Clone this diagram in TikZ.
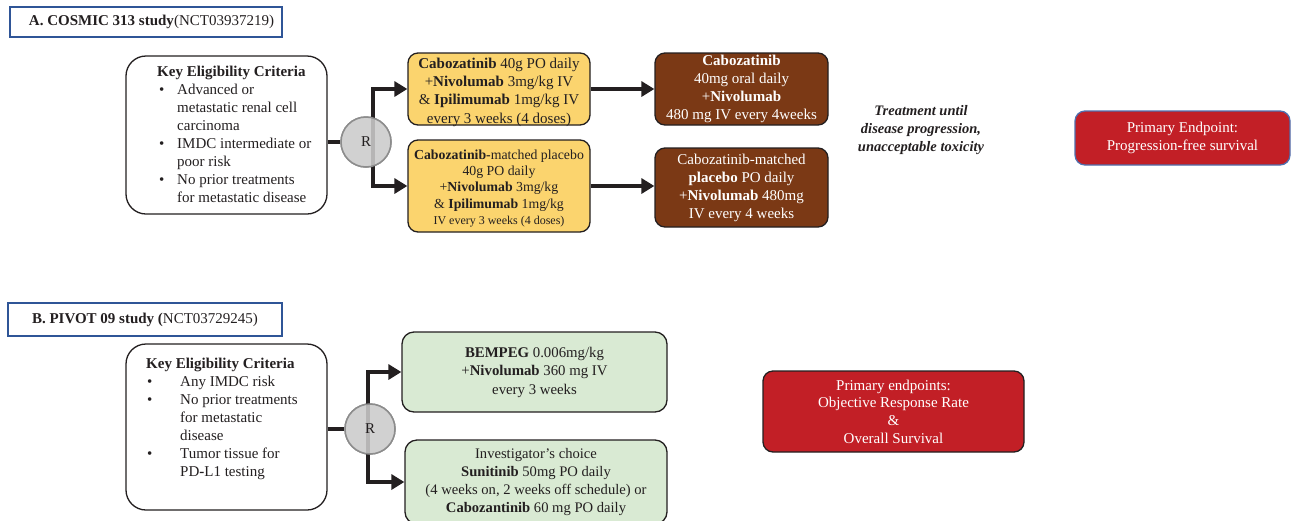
\documentclass[tikz,border=0pt]{standalone}
\usepackage{fontspec}
\setmainfont{Liberation Serif}
\usetikzlibrary{arrows.meta}
\definecolor{txt}{HTML}{231F20}
\definecolor{titleblue}{HTML}{2F5597}
\definecolor{yel}{HTML}{FBD46E}
\definecolor{brn}{HTML}{7B3915}
\definecolor{redbox}{HTML}{C21F26}
\definecolor{grn}{HTML}{D9EAD3}
\definecolor{rgray}{HTML}{D0D0D0}
\definecolor{rborder}{HTML}{8C8C8C}
\definecolor{bluebd}{HTML}{4F6FAE}
\newcommand{\fsz}{\fontsize{15}{18}\selectfont}
\tikzset{
  box/.style={draw=txt, line width=1.3pt, rounded corners=10pt, align=center, text=txt, inner sep=2pt, font=\fsz},
  yelbox/.style={box, fill=yel, minimum width=182pt},
  brnbox/.style={box, fill=brn, text=white, minimum width=173pt},
  grnbox/.style={box, fill=grn, rounded corners=12pt},
  redb/.style={box, fill=redbox, text=white},
  eligbox/.style={draw=txt, line width=1.3pt, rounded corners=20pt, fill=white, minimum width=201pt},
  titlebox/.style={draw=titleblue, line width=2.2pt, text=txt, font=\fontsize{15}{18}\selectfont, inner sep=0pt},
  rnode/.style={circle, draw=rborder, line width=1.5pt, fill=rgray, fill opacity=0.85, text opacity=1, minimum size=50pt, inner sep=0pt, font=\fsz, text=txt},
  thick line/.style={draw=txt, line width=4pt},
  arr/.style={thick line, -{Triangle[length=13pt,width=15pt]}},
  elig text/.style={anchor=base west, inner sep=0pt, font=\fsz, text=txt},
  box text/.style={align=center, inner sep=0pt, text=txt, font=\fsz}
}
\begin{document}
\begin{tikzpicture}[x=1pt,y=-1pt]
\useasboundingbox (0,0) rectangle (1293,520);

% ---------- A ----------
\node[titlebox, minimum width=272pt, minimum height=30pt] (tA) at (146,22) {\hspace{11pt}\textbf{A. COSMIC 313 study}(NCT03937219)};

\node[eligbox, minimum height=158pt] (eligA) at (226.5,135) {};
\node[elig text] (eligAtxt) at (157,76.5) {\begin{tabular}[t]{@{}p{20pt}@{}l@{}}
\multicolumn{2}{@{}l@{}}{\textbf{Key Eligibility Criteria}}\\
\hspace*{2pt}\textbullet & Advanced or\\
 & metastatic renal cell\\
 & carcinoma\\
\hspace*{2pt}\textbullet & IMDC intermediate or\\
 & poor risk\\
\hspace*{2pt}\textbullet & No prior treatments\\
 & for metastatic disease
\end{tabular}};

\node[yelbox, minimum height=72pt] (A1) at (499,89) {};
\node[box text, font=\fontsize{15}{18.3}\selectfont] (A1t) at (499,92) {\textbf{Cabozatinib} 40g PO daily\\+\textbf{Nivolumab} 3mg/kg IV\\\& \textbf{Ipilimumab} 1mg/kg IV\\every 3 weeks (4 doses)};
\node[yelbox, minimum height=92pt] (A2) at (499,186) {};
\node[box text, font=\fontsize{13.8}{16.3}\selectfont] (A2t) at (499,188.5) {\textbf{Cabozatinib-}matched placebo\\40g PO daily\\+\textbf{Nivolumab} 3mg/kg\\\& \textbf{Ipilimumab} 1mg/kg\\{\fontsize{12}{14}\selectfont IV every 3 weeks (4 doses)}};

\node[brnbox, minimum height=72pt] (Br1) at (741.5,89) {\textbf{Cabozatinib}\\40mg oral daily\\+\textbf{Nivolumab}\\480 mg IV every 4weeks};
\node[brnbox, minimum height=79pt] (Br2) at (741.5,187.5) {Cabozatinib-matched\\\textbf{placebo} PO daily\\+\textbf{Nivolumab} 480mg\\IV every 4 weeks};

\node[align=center, text=txt, font=\fontsize{14.5}{18}\selectfont\bfseries\itshape] (treat) at (921,130) {Treatment until\\disease progression,\\unacceptable toxicity};

\node[redb, draw=bluebd, minimum width=215pt, minimum height=54pt] (redA) at (1182.5,138) {Primary Endpoint:\\Progression\textbf{-}free survival};

\coordinate (ja) at (373,142);
\node[rnode] (RA) at (366,142) {};
\draw[thick line] (eligA.east |- RA.center) -- (RA.west);
\draw[arr] (ja) |- (A1.west);
\draw[arr] (ja) |- (A2.west);
\node[rnode] (RAc) at (366,142) {R};
\draw[arr] (A1.east) -- (Br1.west);
\draw[arr] (A2.east) -- (A2.east -| Br2.west);

% ---------- B ----------
\node[titlebox, minimum width=274pt, minimum height=33pt] (tB) at (145,319.5) {\textbf{B. PIVOT 09 study (}NCT03729245)\hspace{21pt}};

\node[eligbox, minimum height=166pt] (eligB) at (226.5,427) {};
\node[elig text] (eligBtxt) at (146,368.5) {\begin{tabular}[t]{@{}p{34pt}@{}l@{}}
\multicolumn{2}{@{}l@{}}{\textbf{Key Eligibility Criteria}}\\
\hspace*{1pt}\textbullet & Any IMDC risk\\
\hspace*{1pt}\textbullet & No prior treatments\\
 & for metastatic\\
 & disease\\
\hspace*{1pt}\textbullet & Tumor tissue for\\
 & PD\textbf{-}L1 testing
\end{tabular}};

\node[grnbox, minimum width=265pt, minimum height=80pt, font=\fontsize{14.8}{18.5}\selectfont] (G1) at (534.5,372) {\textbf{BEMPEG} 0.006mg/kg\\+\textbf{Nivolumab} 360 mg IV\\every 3 weeks};
\node[grnbox, minimum width=262pt, minimum height=84pt, font=\fontsize{14.6}{18.3}\selectfont] (G2) at (536,482) {Investigator's choice\\\textbf{Sunitinib} 50mg PO daily\\(4 weeks on, 2 weeks off schedule) or\\\textbf{Cabozantinib} 60 mg PO daily};

\node[redb, minimum width=261pt, minimum height=81pt, font=\fontsize{15}{17.7}\selectfont] (redB) at (893.5,411.5) {Primary endpoints:\\Objective Response Rate\\\&\\Overall Survival};

\coordinate (jb) at (368,429);
\node[rnode] (RB) at (370,429) {};
\draw[thick line] (eligB.east |- RB.center) -- (RB.west);
\draw[arr] (jb) |- (G1.west);
\draw[arr] (jb) |- (G2.west);
\node[rnode] (RBc) at (370,429) {R};
\end{tikzpicture}
\end{document}
